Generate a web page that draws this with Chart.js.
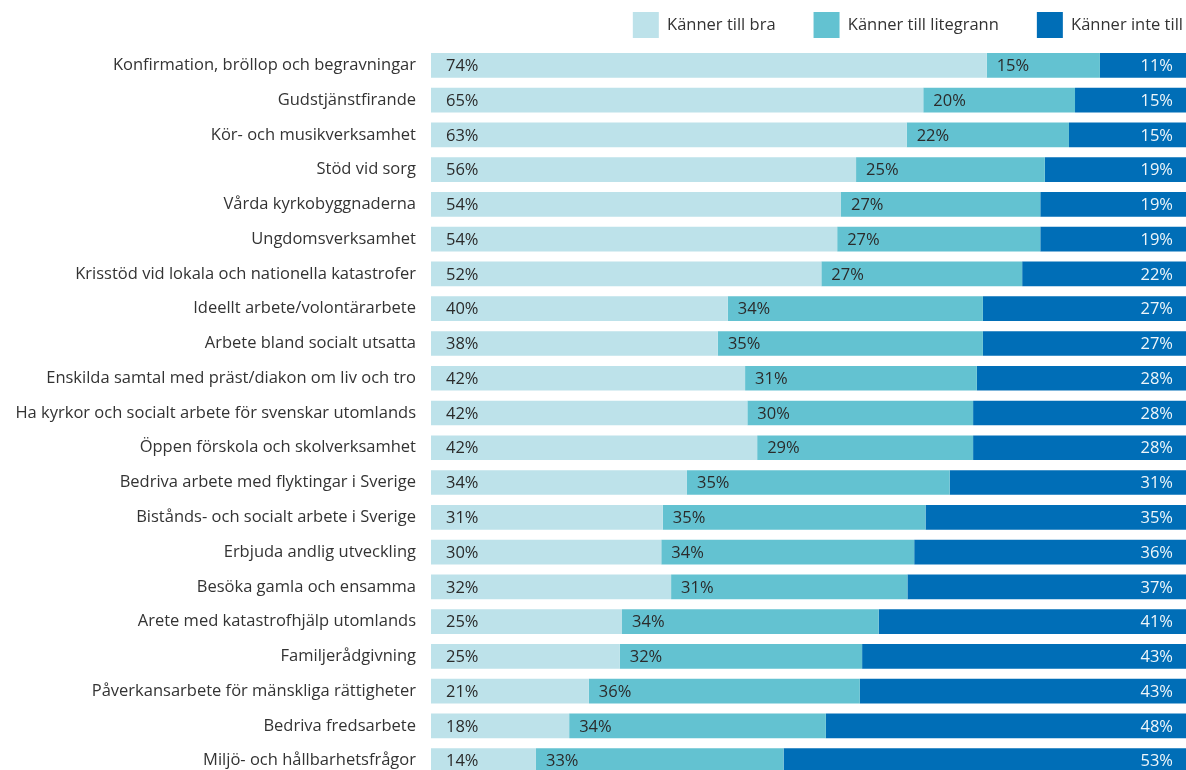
<!DOCTYPE html>
<html>
<head>
<meta charset="utf-8">
<script src="https://cdn.jsdelivr.net/npm/chart.js@4.4.1/dist/chart.umd.min.js"></script>
<style>
  html, body { margin: 0; padding: 0; width: 1186px; height: 770px; overflow: hidden; background: #ffffff; }
  canvas { display: block; }
</style>
</head>
<body>
<canvas id="c" width="1186" height="778" style="width:1186px;height:778px"></canvas>
<script>
const categories = [
  "Konfirmation, bröllop och begravningar",
  "Gudstjänstfirande",
  "Kör- och musikverksamhet",
  "Stöd vid sorg",
  "Vårda kyrkobyggnaderna",
  "Ungdomsverksamhet",
  "Krisstöd vid lokala och nationella katastrofer",
  "Ideellt arbete/volontärarbete",
  "Arbete bland socialt utsatta",
  "Enskilda samtal med präst/diakon om liv och tro",
  "Ha kyrkor och socialt arbete för svenskar utomlands",
  "Öppen förskola och skolverksamhet",
  "Bedriva arbete med flyktingar i Sverige",
  "Bistånds- och socialt arbete i Sverige",
  "Erbjuda andlig utveckling",
  "Besöka gamla och ensamma",
  "Arete med katastrofhjälp utomlands",
  "Familjerådgivning",
  "Påverkansarbete för mänskliga rättigheter",
  "Bedriva fredsarbete",
  "Miljö- och hållbarhetsfrågor"
];

const seriesNames = ["Känner till bra", "Känner till litegrann", "Känner inte till"];

// bar lengths (share, %)
const knowWell   = [73.6, 65.2, 63.0, 56.3, 54.3, 53.8, 51.7, 39.3, 38.0, 41.6, 41.9, 43.2, 33.9, 30.7, 30.5, 31.8, 25.3, 25.0, 20.9, 18.3, 13.9];
const knowLittle = [15.0, 20.1, 21.5, 25.0, 26.4, 26.9, 26.6, 33.8, 35.1, 30.7, 29.9, 28.6, 34.8, 34.8, 33.5, 31.3, 34.0, 32.1, 35.9, 34.0, 32.8];
const dontKnow   = [11.4, 14.7, 15.5, 18.7, 19.3, 19.3, 21.7, 26.9, 26.9, 27.7, 28.2, 28.2, 31.3, 34.5, 36.0, 36.9, 40.7, 42.9, 43.2, 47.7, 53.3];

// printed value labels
const knowWellLabels   = [74, 65, 63, 56, 54, 54, 52, 40, 38, 42, 42, 42, 34, 31, 30, 32, 25, 25, 21, 18, 14];
const knowLittleLabels = [15, 20, 22, 25, 27, 27, 27, 34, 35, 31, 30, 29, 35, 35, 34, 31, 34, 32, 36, 34, 33];
const dontKnowLabels   = [11, 15, 15, 19, 19, 19, 22, 27, 27, 28, 28, 28, 31, 35, 36, 37, 41, 43, 43, 48, 53];

const COLORS = ["#bde2ea", "#63c2d1", "#006eb7"];
const FONT = "'Open Sans', 'Noto Sans', sans-serif";
const FONT_SIZE = 16.5;

const labelSets = [knowWellLabels, knowLittleLabels, dontKnowLabels];

const valueLabelPlugin = {
  id: 'valueLabels',
  afterDatasetsDraw(chart) {
    const ctx = chart.ctx;
    ctx.save();
    ctx.font = FONT_SIZE + "px " + FONT;
    ctx.textBaseline = 'middle';
    chart.data.datasets.forEach((ds, di) => {
      const meta = chart.getDatasetMeta(di);
      meta.data.forEach((bar, i) => {
        const txt = labelSets[di][i] + '%';
        const left = Math.min(bar.x, bar.base);
        const right = Math.max(bar.x, bar.base);
        if (di === 0) {
          ctx.fillStyle = '#2b2b2b';
          ctx.textAlign = 'left';
          ctx.fillText(txt, left + 15, bar.y + 1);
        } else if (di === 1) {
          ctx.fillStyle = '#2b2b2b';
          ctx.textAlign = 'left';
          ctx.fillText(txt, left + 10, bar.y + 1);
        } else {
          ctx.fillStyle = '#eef6fa';
          ctx.textAlign = 'right';
          ctx.fillText(txt, right - 13, bar.y + 1);
        }
      });
    });
    ctx.restore();
  }
};

const legendShiftPlugin = {
  id: 'legendShift',
  afterLayout(chart) {
    const lg = chart.legend;
    if (!lg) return;
    lg.left += 35;
    lg.right += 35;
    lg.top = -26;
  }
};

new Chart(document.getElementById('c'), {
  type: 'bar',
  data: {
    labels: categories,
    datasets: [
      { label: seriesNames[0], data: knowWell,   backgroundColor: COLORS[0] },
      { label: seriesNames[1], data: knowLittle, backgroundColor: COLORS[1] },
      { label: seriesNames[2], data: dontKnow,   backgroundColor: COLORS[2] }
    ]
  },
  options: {
    indexAxis: 'y',
    responsive: false,
    animation: false,
    layout: { padding: 0 },
    datasets: {
      bar: { categoryPercentage: 1.0, barPercentage: 0.71, borderWidth: 0 }
    },
    scales: {
      x: { stacked: true, min: 0, max: 100, display: false },
      y: {
        stacked: true,
        grid: { display: false, drawTicks: false },
        border: { display: false },
        ticks: {
          autoSkip: false,
          padding: 15,
          color: '#333333',
          font: { family: FONT, size: FONT_SIZE }
        },
        afterFit(scale) {
          scale.width = 431;
          scale.paddingTop = 0;
          scale.paddingBottom = 0;
        }
      }
    },
    plugins: {
      tooltip: { enabled: false },
      legend: {
        position: 'top',
        align: 'end',
        maxHeight: 48,
        labels: {
          boxWidth: 26,
          boxHeight: 26,
          padding: 38,
          color: '#333333',
          font: { family: FONT, size: FONT_SIZE }
        }
      }
    }
  },
  plugins: [valueLabelPlugin, legendShiftPlugin]
});
</script>
</body>
</html>
